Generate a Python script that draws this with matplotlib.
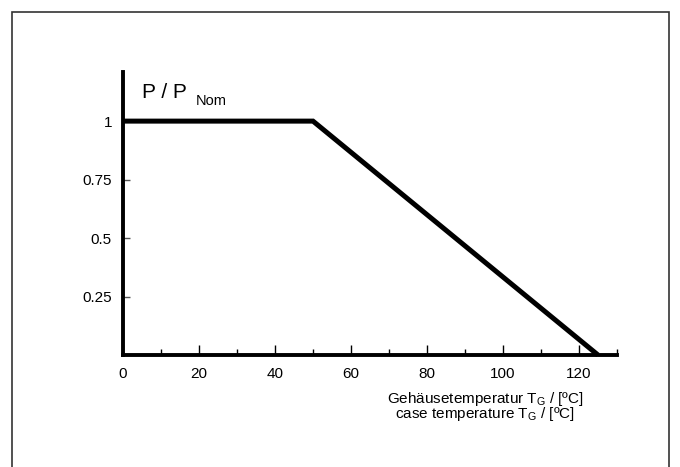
import matplotlib.pyplot as plt
from matplotlib.patches import Rectangle
from matplotlib.ticker import MultipleLocator

plt.rcParams['font.family'] = ['Liberation Sans', 'DejaVu Sans']
plt.rcParams['mathtext.fontset'] = 'custom'
plt.rcParams['mathtext.rm'] = 'Liberation Sans'
plt.rcParams['mathtext.it'] = 'Liberation Sans'

# derating curve
temp = [0, 50, 125]
power = [1, 1, 0]

x_ticks = [0, 20, 40, 60, 80, 100, 120]
y_ticks = [0.25, 0.5, 0.75, 1]
y_labels = ["0.25", "0.5", "0.75", "1"]

W, H = 680, 467
fig = plt.figure(figsize=(W / 100, H / 100), dpi=100)

# outer frame (open at bottom)
fig.patches.append(Rectangle((12 / W, -0.1), 657 / W, 1.1 - 12 / H,
                             transform=fig.transFigure, fill=False,
                             edgecolor="#333333", linewidth=1.2))

ax = fig.add_axes([123 / W, 112 / H, 494 / W, 283 / H])
ax.plot(temp, power, color="black", linewidth=3.6, solid_capstyle="butt",
        solid_joinstyle="miter", clip_on=False)

ax.set_xlim(0, 130)
ax.set_ylim(0, 1.21)
for s in ["top", "right"]:
    ax.spines[s].set_visible(False)
for s in ["left", "bottom"]:
    ax.spines[s].set_linewidth(2.8)

ax.set_xticks(x_ticks)
ax.xaxis.set_minor_locator(MultipleLocator(10))
ax.set_yticks(y_ticks)
ax.set_yticklabels(y_labels)
ax.tick_params(axis="x", which="major", direction="in", length=7, width=1,
               pad=9, labelsize=11)
ax.tick_params(axis="x", which="minor", direction="in", length=4, width=1)
ax.tick_params(axis="y", direction="in", length=5, width=1, pad=8,
               labelsize=11, color="#555555")

fig.text(142 / W, 1 - 98 / H, "P / P", fontsize=15, ha="left", va="baseline")
fig.text(196 / W, 1 - 105 / H, "Nom", fontsize=10.5, ha="left", va="baseline")

fig.text(485 / W, 1 - 403 / H, "Gehäusetemperatur T$_\\mathregular{G}$ / [ºC]",
         ha="center", va="baseline", fontsize=11)
fig.text(485 / W, 1 - 418 / H, "case temperature T$_\\mathregular{G}$ / [ºC]",
         ha="center", va="baseline", fontsize=11)

fig.savefig("out.png", dpi=100)
